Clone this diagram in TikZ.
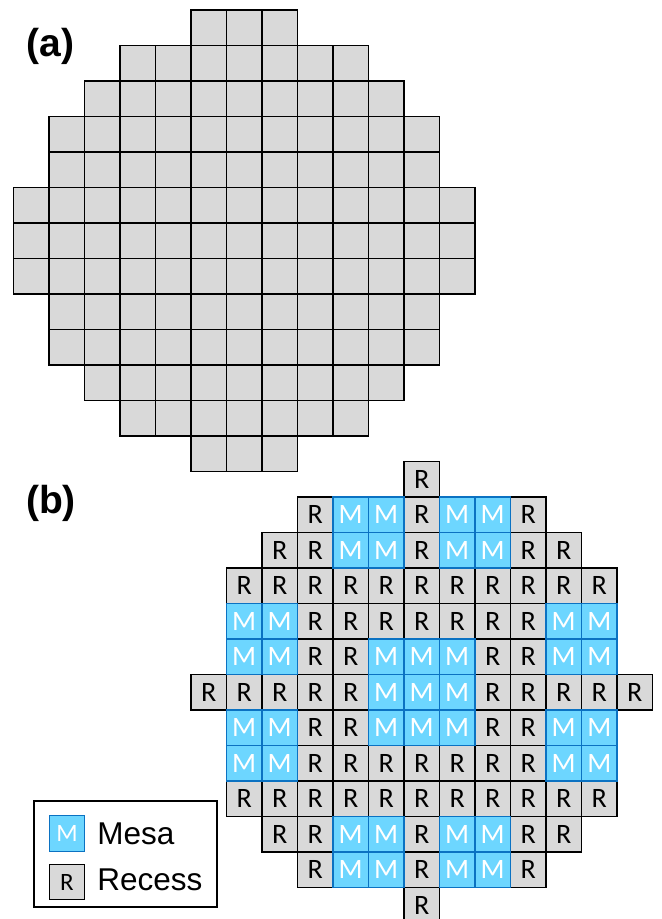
\documentclass[tikz,border=0pt]{standalone}
\usepackage{fontspec}
\setmainfont{Liberation Sans}
\newfontfamily\cellfont{Carlito}
\usetikzlibrary{positioning}
\definecolor{recessgray}{HTML}{D9D9D9}
\definecolor{mesablue}{HTML}{6DD6FF}
\definecolor{mesaedge}{HTML}{0B72C2}
\tikzstyle{cell gray}=[draw=black, fill=recessgray, line width=.8pt, minimum size=.8cm, inner sep=0pt, font=\cellfont\fontsize{18}{21}\selectfont]
\tikzstyle{cell R}=[cell gray, text=black]
\tikzstyle{cell M}=[cell gray, draw=mesaedge, fill=mesablue, text=white]
\tikzstyle{key cell}=[font=\cellfont\fontsize{16}{19}\selectfont]
\tikzstyle{key text}=[anchor=base west, inner sep=0pt, font=\fontsize{20.2}{24}\selectfont]
\tikzstyle{panel label}=[font=\bfseries\fontsize{25}{30}\selectfont]
% row / first column / cells of the mesa map
\def\mesamap{0/6/{R},
  1/3/{R,M,M,R,M,M,R},
  2/2/{R,R,M,M,R,M,M,R,R},
  3/1/{R,R,R,R,R,R,R,R,R,R,R},
  4/1/{M,M,R,R,R,R,R,R,R,M,M},
  5/1/{M,M,R,R,M,M,M,R,R,M,M},
  6/0/{R,R,R,R,R,M,M,M,R,R,R,R,R},
  7/1/{M,M,R,R,M,M,M,R,R,M,M},
  8/1/{M,M,R,R,R,R,R,R,R,M,M},
  9/1/{R,R,R,R,R,R,R,R,R,R,R},
  10/2/{R,R,M,M,R,M,M,R,R},
  11/3/{R,M,M,R,M,M,R},
  12/6/{R}}

\begin{document}
\begin{tikzpicture}[x=.8cm,y=.8cm]
    \useasboundingbox (0,0) rectangle (18.62,-25.887);

    % Labels
    \draw (1.423,-1.296) node[panel label] (lab a) {(a)};
    \draw (1.437,-14.169) node[panel label] (lab b) {(b)};

    % Wafer
    \begin{scope}[shift={(0.380,-0.282)}]
    \foreach \r/\s/\n in {0/5/3,1/3/7,2/2/9,3/1/11,4/1/11,5/0/13,6/0/13,
                          7/0/13,8/1/11,9/1/11,10/2/9,11/3/7,12/5/3}
      \foreach \k in {1,...,\n}
        \draw ({\s+\k-.5},{-\r-.5}) node[cell gray] (a-\r-\k) {};
    \end{scope}

    % Mesas and recesses (recess first, mesa on top)
    \begin{scope}[shift={(5.380,-13.0)}]
    \foreach \pass in {R,M}
      \foreach \r/\s/\cells in \mesamap
        \foreach \c [count=\i from 0] in \cells {
          \if\c\pass
            \draw ({\s+\i+.5},{-\r-.5}) node[cell \c] (b-\r-\i) {\c};
          \fi
        }
    \end{scope}

    % Key
    \draw[line width=.8pt] (0.958,-22.563) rectangle (6.113,-25.549);
    \draw (1.887,-23.479) node[cell M,key cell] (key m) {M};
    \draw (1.887,-24.845) node[cell R,key cell] (key r) {R};
    \draw (2.732,-23.775) node[key text] (key mesa) {Mesa};
    \draw (2.732,-25.070) node[key text] (key recess) {Recess};

\end{tikzpicture}
\end{document}
